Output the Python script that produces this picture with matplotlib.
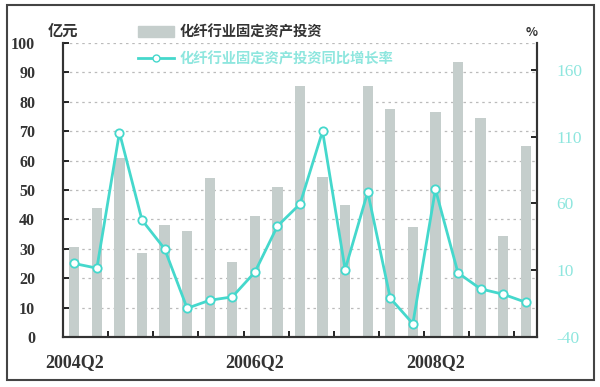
import matplotlib
matplotlib.use('Agg')
import matplotlib.pyplot as plt
from matplotlib.patches import Patch, Rectangle
from matplotlib.lines import Line2D
import numpy as np

plt.rcParams['font.family'] = ['Noto Sans CJK SC', 'DejaVu Sans']

# 季度
quarters = ['2004Q2', '2004Q3', '2004Q4', '2005Q1', '2005Q2', '2005Q3', '2005Q4',
            '2006Q1', '2006Q2', '2006Q3', '2006Q4', '2007Q1', '2007Q2', '2007Q3',
            '2007Q4', '2008Q1', '2008Q2', '2008Q3', '2008Q4', '2009Q1', '2009Q2']
shown_labels = ['2004Q2', '2006Q2', '2008Q2']

# 化纤行业固定资产投资（亿元）
invest = [30.5, 44, 61, 28.5, 38, 36, 54, 25.5, 41, 51, 85.5,
          54.5, 45, 85.5, 77.5, 37.5, 76.5, 93.5, 74.5, 34.5, 65]
# 同比增长率（%）
growth = [15, 11.5, 113, 47.5, 26, -18.5, -12.5, -10, 8.5, 43, 59.5,
          114, 10.5, 68.5, -11, -30, 70.5, 8, -4, -8, -14]

bar_color = '#C5CECC'
line_color = '#45D8CC'
right_color = '#8EE6DE'
serif = ['Liberation Serif', 'DejaVu Serif']

fig = plt.figure(figsize=(6, 3.87), dpi=100)
ax = fig.add_axes([63 / 600, 1 - 337 / 387, 474 / 600, 294 / 387])
ax2 = ax.twinx()

x = np.arange(len(quarters))
ax.bar(x, invest, width=0.45, color=bar_color, zorder=2)
ax2.plot(x, growth, color=line_color, lw=2, marker='o', ms=6,
         mfc='white', mec=line_color, mew=1.3, zorder=3)

ax.set_xlim(-0.5, len(quarters) - 0.5)
ax.set_ylim(0, 100)
ax2.set_ylim(-40, 180)

# 网格线
for v in range(10, 101, 10):
    ax.axhline(v, color='#BBBBBB', lw=0.9, ls=(0, (2, 3)), zorder=1)

ax.set_yticks(range(0, 101, 10))
ax.set_yticklabels([str(v) for v in range(0, 101, 10)],
                   family=serif, fontweight='bold', fontsize=11.5, color='#333333')
ax2.set_yticks([-40, 10, 60, 110, 160])
ax2.set_yticklabels(['-40', '10', '60', '110', '160'],
                    family=serif, fontsize=12.5, color=right_color)

pos = [quarters.index(q) for q in shown_labels]
ax.set_xticks(pos)
ax.set_xticklabels(shown_labels, family=serif, fontweight='bold',
                   fontsize=13, color='#333333')
ax.set_xticks(np.arange(1.5, len(quarters) - 1, 2), minor=True)
ax.tick_params(axis='x', which='major', length=0, pad=12)
ax.tick_params(axis='x', which='minor', direction='in', length=4, width=1.2)
ax.tick_params(axis='y', direction='in', length=4, width=1.2, pad=20)
ax2.tick_params(axis='y', direction='in', length=4, width=1.2, pad=14)

for a in (ax, ax2):
    a.spines['top'].set_visible(False)
    for s in ('left', 'right', 'bottom'):
        a.spines[s].set_linewidth(1.5)
        a.spines[s].set_color('#333333')

fig.text(48 / 600, 1 - 31 / 387, '亿元', fontsize=11, fontweight='bold',
         color='#333333', va='center')
fig.text(532 / 600, 1 - 32 / 387, '%', fontsize=9, fontweight='bold',
         color='#333333', va='center', ha='center')

handles = [Patch(color=bar_color),
           Line2D([], [], color=line_color, lw=2, marker='o', ms=5,
                  mfc='white', mec=line_color)]
leg = fig.legend(handles, ['化纤行业固定资产投资', '化纤行业固定资产投资同比增长率'],
                 loc='upper left', bbox_to_anchor=(125 / 600, 1 - 12 / 387),
                 frameon=False, handlelength=2.5, handleheight=0.8,
                 handletextpad=0.4, labelspacing=0.9,
                 prop={'weight': 'bold', 'size': 10.3})
leg.get_texts()[0].set_color('#333333')
leg.get_texts()[1].set_color(right_color)

# 外框
fig.patches.append(Rectangle((7 / 600, 1 - 380 / 387), 587 / 600, 375 / 387,
                             transform=fig.transFigure, fill=False,
                             ec='#444444', lw=1.5))

fig.savefig('out.png', dpi=100)
